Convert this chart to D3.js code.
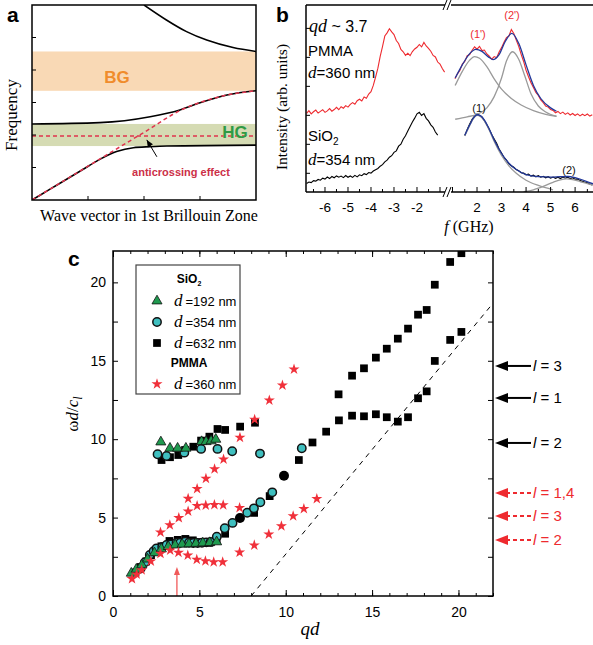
<!DOCTYPE html>
<html><head><meta charset="utf-8">
<script src="https://cdn.jsdelivr.net/npm/d3@7"></script>
<style>body{margin:0;background:#fff}svg{display:block}</style>
</head><body>
<svg id="c" width="593" height="645"></svg>
<script>
// ================= DATA =================
// Panel a (schematic dispersion, arbitrary units)
const bandBG = [3.36, 4.57];
const bandHG = [1.66, 2.34];
const hybridFreq = 1.97;
const branchUpper = [[2.0,6.0],[2.4,5.54],[2.76,5.18],[3.12,4.92],[3.59,4.69],[4.0,4.57]];
const branchMiddle = [[0,2.34],[1.21,2.38],[2.11,2.56],[2.64,2.77],[3.0,2.99],[3.48,3.23],[4.0,3.36]];
const branchLower = [[0,0],[0.3,0.31],[0.9,0.93],[1.21,1.25],[1.51,1.49],[1.81,1.61],[2.11,1.64],[2.41,1.66],[4.0,1.69]];
const uncoupled = [[0,0],[1,1.04],[2,2.08],[2.7,2.8],[3.0,3.0],[3.48,3.23],[4.0,3.36]];
const anticrossArrow = [[2.23,1.33],[2.05,1.85]];

// Panel b spectra: [f (GHz), intensity (arb.)]
const pmmaLeft = [[-6.8,42.0],[-6.7,43.5],[-6.6,41.8],[-6.5,42.9],[-6.4,43.8],[-6.3,42.2],[-6.2,43.1],[-6.1,44.0],[-6.0,42.6],[-5.9,43.4],[-5.8,44.6],[-5.7,43.2],[-5.6,44.1],[-5.5,45.3],[-5.4,44.0],[-5.3,45.6],[-5.2,44.8],[-5.1,46.2],[-5.0,45.4],[-4.9,46.9],[-4.8,47.8],[-4.7,46.9],[-4.6,48.8],[-4.5,49.6],[-4.4,48.7],[-4.3,50.8],[-4.2,50.1],[-4.1,52.4],[-4.0,53.6],[-3.9,57.0],[-3.8,61.5],[-3.7,66.2],[-3.6,72.5],[-3.5,77.8],[-3.4,83.4],[-3.3,85.1],[-3.2,87.3],[-3.1,85.6],[-3.0,84.2],[-2.9,81.0],[-2.8,79.4],[-2.7,76.2],[-2.6,75.0],[-2.5,73.1],[-2.4,74.2],[-2.3,72.9],[-2.2,75.1],[-2.1,76.5],[-2.0,77.4],[-1.9,78.9],[-1.8,77.6],[-1.7,80.0],[-1.6,78.1],[-1.5,76.8],[-1.4,75.3],[-1.3,73.0],[-1.2,72.2],[-1.1,69.5],[-1.0,68.4],[-0.9,66.0],[-0.8,64.1]];
const pmmaRight = [[1.1,60.5],[1.2,63.2],[1.3,65.0],[1.4,68.4],[1.5,69.8],[1.6,72.9],[1.7,73.5],[1.8,75.8],[1.9,77.6],[2.0,76.4],[2.1,77.9],[2.2,75.6],[2.3,75.9],[2.4,73.8],[2.5,72.6],[2.6,71.0],[2.7,72.4],[2.8,71.8],[2.9,74.9],[3.0,77.2],[3.1,80.1],[3.2,82.6],[3.3,83.4],[3.4,86.9],[3.5,84.8],[3.6,81.2],[3.7,77.9],[3.8,73.6],[3.9,69.8],[4.0,65.1],[4.1,61.6],[4.2,58.4],[4.3,55.9],[4.4,53.2],[4.5,51.6],[4.6,49.3],[4.7,47.8],[4.8,46.0],[4.9,45.4],[5.0,44.1],[5.1,43.6],[5.2,42.4],[5.3,43.1],[5.4,41.9],[5.5,42.7],[5.6,41.5],[5.7,42.3],[5.8,41.2],[5.9,42.0],[6.0,40.9],[6.1,41.8],[6.2,40.7],[6.3,41.6],[6.4,40.8],[6.5,41.7],[6.6,40.6],[6.7,41.3]];
const sio2Left = [[-6.8,4.6],[-6.7,5.3],[-6.6,5.0],[-6.5,6.1],[-6.4,5.8],[-6.3,6.7],[-6.2,6.3],[-6.1,7.4],[-6.0,6.9],[-5.9,8.0],[-5.8,7.2],[-5.7,8.3],[-5.6,7.6],[-5.5,8.6],[-5.4,7.9],[-5.3,8.5],[-5.2,7.7],[-5.1,8.8],[-5.0,7.9],[-4.9,8.6],[-4.8,7.8],[-4.7,8.9],[-4.6,8.1],[-4.5,9.2],[-4.4,8.7],[-4.3,9.8],[-4.2,9.3],[-4.1,10.4],[-4.0,10.1],[-3.9,11.2],[-3.8,11.9],[-3.7,12.6],[-3.6,13.8],[-3.5,14.6],[-3.4,16.1],[-3.3,17.0],[-3.2,18.6],[-3.1,19.4],[-3.0,21.2],[-2.9,22.0],[-2.8,24.5],[-2.7,25.6],[-2.6,28.2],[-2.5,30.1],[-2.4,32.6],[-2.3,35.0],[-2.2,37.4],[-2.1,39.5],[-2.0,41.8],[-1.9,42.6],[-1.8,40.9],[-1.7,41.9],[-1.6,39.4],[-1.5,38.0],[-1.4,35.9],[-1.3,34.6],[-1.2,32.1],[-1.1,30.4]];
const sio2Right = [[1.5,30.2],[1.6,33.5],[1.7,36.4],[1.8,38.9],[1.9,40.6],[2.0,41.8],[2.1,40.9],[2.2,40.1],[2.3,38.2],[2.4,35.9],[2.5,33.6],[2.6,30.8],[2.7,28.4],[2.8,26.1],[2.9,23.0],[3.0,20.9],[3.1,18.5],[3.2,17.0],[3.3,15.1],[3.4,14.0],[3.5,13.2],[3.6,12.0],[3.7,11.4],[3.8,10.3],[3.9,10.1],[4.0,9.2],[4.1,9.6],[4.2,8.5],[4.3,9.0],[4.4,8.1],[4.5,8.7],[4.6,7.9],[4.7,8.4],[4.8,7.6],[4.9,8.2],[5.0,7.4],[5.1,8.0],[5.2,7.3],[5.3,7.9],[5.4,7.2],[5.5,8.0],[5.6,7.4],[5.7,7.9],[5.8,7.1],[5.9,7.6],[6.0,6.8],[6.1,7.0],[6.2,6.1],[6.3,5.7],[6.4,5.2],[6.5,4.9],[6.6,4.2],[6.7,3.8]];
const fitPmma1 = [[1.11,57],[1.4,64.5],[1.7,70.5],[1.9,72.4],[2.1,71.5],[2.4,67],[2.7,60.5],[3.0,55],[3.4,50],[3.8,46.5],[4.3,43.5],[4.8,41.5],[5.24,40.5]];
const fitPmma2 = [[1.11,38.9],[1.6,40.2],[2.0,41.5],[2.4,45],[2.7,51],[3.0,61],[3.2,70],[3.45,75],[3.7,71],[3.95,62],[4.2,52.5],[4.5,46],[4.8,42.8],[5.24,40.5]];
const fitPmmaSum = [[1.11,61],[1.4,68],[1.7,74],[1.95,76.3],[2.2,75.2],[2.45,72.4],[2.65,70.8],[2.9,73.5],[3.15,80.5],[3.42,84.8],[3.7,79.5],[4.0,68],[4.3,57],[4.6,50],[5.0,45],[5.24,43.2]];
const fitSio1 = [[1.5,30],[1.7,35.5],[1.85,39.2],[2.0,41],[2.15,40.3],[2.3,38],[2.5,33],[2.7,27],[3.0,19.5],[3.3,14],[3.6,10],[4.0,6.3],[4.5,3.5],[5.1,1.2]];
const fitSio2 = [[3.9,0.2],[4.3,1.2],[4.7,3.0],[5.1,5.2],[5.4,6.5],[5.65,7.0],[5.9,6.6],[6.2,5.6],[6.5,4.5],[6.73,3.7]];
const fitSioSum = [[1.5,30.3],[1.7,35.8],[1.85,39.5],[2.0,41.3],[2.15,40.7],[2.3,38.5],[2.5,33.6],[2.7,27.8],[3.0,20.6],[3.3,15.4],[3.6,12.0],[4.0,9.3],[4.5,8.2],[5.0,8.0],[5.4,8.2],[5.7,8.3],[6.0,7.7],[6.4,6.0],[6.73,4.4]];
const bTicksLeft = [-6,-5,-4,-3,-2];
const bTicksRight = [2,3,4,5,6];
const bTicksIntensity = [10,25.5,41,56.5,72,87.5];

// Panel c: [qd, omega d / c_l]
const sio2_192 = [[1.06,1.45],[1.35,1.7],[1.67,1.98],[2.0,2.35],[2.4,2.75],[2.8,3.0],[3.2,3.15],[3.6,3.25],[4.0,3.3],[4.4,3.32],[4.8,3.35],[5.2,3.38],[5.6,3.4],[6.0,3.45],
  [2.77,9.82],[3.30,9.42],[3.74,9.42],[4.22,9.42],[5.13,9.84],[5.39,9.84],[5.68,9.89],[5.95,9.99]];
const sio2_354 = [[1.6,1.75],[1.85,2.15],[2.13,2.61],[2.35,2.85],[2.52,3.04],[2.85,3.12],[3.10,3.25],[3.35,3.28],[3.68,3.40],[3.9,3.40],[4.17,3.46],[4.4,3.40],[4.65,3.38],[4.9,3.38],[5.15,3.40],[5.4,3.42],[5.65,3.45],[6.01,3.78],
  [6.47,4.32],[6.92,4.66],[7.77,5.31],[8.16,5.59],[8.53,5.98],[9.22,6.61],
  [2.58,9.04],[3.10,8.93],[4.13,9.14],[5.10,9.38],[6.05,9.38],[6.90,9.23],[8.51,9.08],[10.93,9.42]];
const sio2_354_dark = [[7.35,4.97],[9.90,7.67]];
const sio2_632 = [[1.3,1.5],[1.6,1.85],[1.92,2.2],[2.2,2.6],[2.5,2.85],[2.8,3.17],[3.27,3.51],[3.75,3.58],[4.19,3.64],[4.62,3.55],[5.1,3.42],[5.58,3.40],[6.0,3.55],[6.49,3.97],[8.17,5.30],[9.07,6.37],
  [10.76,8.67],[11.55,9.79],[12.34,10.48],[13.08,11.20],[13.84,11.50],[14.53,11.46],[15.22,11.59],[15.85,11.40],[16.49,11.12],[17.08,11.40],[17.66,12.61],[18.16,13.05],[18.63,14.99],[19.52,16.33],[20.17,16.84],
  [2.81,8.67],[3.30,8.85],[3.78,8.99],[4.17,9.31],[4.65,9.52],[5.10,9.91],[5.58,10.16],[6.05,10.65],[6.49,10.59],[7.36,10.80],[8.22,11.05],
  [13.06,12.86],[13.84,14.05],[14.53,14.52],[15.22,15.20],[15.85,15.77],[16.49,16.41],[17.08,17.05],[17.66,17.94],[18.16,18.24],[18.63,19.85],[19.52,21.30],[20.17,21.86]];
const pmma_360 = [[1.10,1.09],[1.37,1.38],[1.66,1.65],[2.19,2.22],[2.75,2.70],[3.31,2.91],[3.79,2.77],[4.33,2.60],[4.85,2.32],[5.35,2.23],[5.83,2.17],[6.35,2.17],[7.33,2.78],[8.18,3.24],[9.02,3.94],[9.75,4.46],[10.43,5.10],[11.05,5.56],[11.8,6.2],
  [2.75,4.06],[3.29,4.53],[3.81,4.98],[4.35,5.40],[4.87,5.75],[5.37,5.78],[5.87,5.81],[6.38,5.80],[7.33,5.62],
  [4.35,6.22],[4.87,6.84],[5.38,7.49],[5.88,8.09],[6.40,8.72],[7.35,10.11],[8.20,11.25],[9.05,12.48],[9.81,13.44],[10.48,14.46]];
const soundLine = [[8.0,0],[22,18.67]];
const markerQd = 3.7;
const modesSio2 = [{l:"3", w:14.67},{l:"1", w:12.63},{l:"2", w:9.76}];
const modesPmma = [{l:"1,4", w:6.57},{l:"3", w:5.10},{l:"2", w:3.57}];
const cTicks = [0,5,10,15,20];

// ================= DRAW =================
const SANS = "'Liberation Sans', Arial, Helvetica, sans-serif";
const SERIF = "'Liberation Serif', 'Times New Roman', serif";
const RED = "#ee2a2f";
const svg = d3.select("#c");

// ---------- Panel a ----------
const xa = d3.scaleLinear().domain([0,4]).range([32,256]);
const ya = d3.scaleLinear().domain([0,6]).range([200,5]);
const ga = svg.append("g");
ga.append("defs").append("clipPath").attr("id","clipA").append("rect")
  .attr("x",xa(0)).attr("y",ya(6)).attr("width",xa(4)-xa(0)).attr("height",ya(0)-ya(6));
ga.append("rect").attr("x",xa(0)).attr("width",xa(4)-xa(0)).attr("y",ya(bandBG[1])).attr("height",ya(bandBG[0])-ya(bandBG[1])).attr("fill","#f9d9b5");
ga.append("rect").attr("x",xa(0)).attr("width",xa(4)-xa(0)).attr("y",ya(bandHG[1])).attr("height",ya(bandHG[0])-ya(bandHG[1])).attr("fill","#d5dbb3");
const la = d3.line().x(d=>xa(d[0])).y(d=>ya(d[1])).curve(d3.curveMonotoneX);
const gac = ga.append("g").attr("clip-path","url(#clipA)");
[branchUpper,branchMiddle,branchLower].forEach(b=>gac.append("path").attr("d",la(b)).attr("fill","none").attr("stroke","#000").attr("stroke-width",1.6));
gac.append("path").attr("d",la(uncoupled)).attr("fill","none").attr("stroke","#e0344e").attr("stroke-width",1.5).attr("stroke-dasharray","4,3");
gac.append("line").attr("x1",xa(0)).attr("x2",xa(4)).attr("y1",ya(hybridFreq)).attr("y2",ya(hybridFreq)).attr("stroke","#e0344e").attr("stroke-width",1.5).attr("stroke-dasharray","4,3");
ga.append("text").attr("x",117).attr("y",83).attr("text-anchor","middle").attr("font-family",SANS).attr("font-weight","bold").attr("font-size",17).attr("fill","#f08c2c").text("BG");
ga.append("text").attr("x",235).attr("y",137.5).attr("text-anchor","middle").attr("font-family",SANS).attr("font-weight","bold").attr("font-size",17).attr("fill","#2f9a45").text("HG");
ga.append("text").attr("x",181).attr("y",176).attr("text-anchor","middle").attr("font-family",SANS).attr("font-weight","bold").attr("font-size",11).attr("fill","#cc3048").text("anticrossing effect");
{
  const [p0,p1] = anticrossArrow.map(d=>[xa(d[0]),ya(d[1])]);
  ga.append("line").attr("x1",p0[0]).attr("y1",p0[1]).attr("x2",p1[0]).attr("y2",p1[1]).attr("stroke","#000").attr("stroke-width",1);
  const ang = Math.atan2(p1[1]-p0[1],p1[0]-p0[0]);
  const L=7,W=3;
  const bx=p1[0]-L*Math.cos(ang), by=p1[1]-L*Math.sin(ang);
  ga.append("path").attr("d",`M${p1[0]},${p1[1]}L${bx+W*Math.sin(ang)},${by-W*Math.cos(ang)}L${bx-W*Math.sin(ang)},${by+W*Math.cos(ang)}Z`).attr("fill","#000");
}
ga.append("rect").attr("x",xa(0)).attr("y",ya(6)).attr("width",xa(4)-xa(0)).attr("height",ya(0)-ya(6)).attr("fill","none").attr("stroke","#000").attr("stroke-width",1.5);
[1,2,3,4,5].forEach(v=>ga.append("line").attr("x1",xa(0)).attr("x2",xa(0)+4).attr("y1",ya(v)).attr("y2",ya(v)).attr("stroke","#000"));
[1,2,3].forEach(v=>ga.append("line").attr("x1",xa(v)).attr("x2",xa(v)).attr("y1",ya(0)).attr("y2",ya(0)-4).attr("stroke","#000"));
ga.append("text").attr("x",17).attr("y",115).attr("transform","rotate(-90,17,115)").attr("text-anchor","middle").attr("font-family",SERIF).attr("font-size",17).text("Frequency");
ga.append("text").attr("x",149).attr("y",221).attr("text-anchor","middle").attr("font-family",SERIF).attr("font-size",16).text("Wave vector in 1st Brillouin Zone");
svg.append("text").attr("x",7).attr("y",22).attr("font-family",SANS).attr("font-weight","bold").attr("font-size",21).text("a");

// ---------- Panel b ----------
const xbL = d3.scaleLinear().domain([-6.826,-0.652]).range([306,448]);
const xbR = d3.scaleLinear().domain([0.816,6.73]).range([448,593]);
const yb = d3.scaleLinear().domain([0,100]).range([192,5]);
const gb = svg.append("g");
const lL = d3.line().x(d=>xbL(d[0])).y(d=>yb(d[1]));
const lR = d3.line().x(d=>xbR(d[0])).y(d=>yb(d[1]));
const lRs = d3.line().x(d=>xbR(d[0])).y(d=>yb(d[1])).curve(d3.curveMonotoneX);
gb.append("defs").append("clipPath").attr("id","clipB").append("rect").attr("x",306).attr("y",5).attr("width",287).attr("height",187);
const gbc = gb.append("g").attr("clip-path","url(#clipB)");
gbc.append("path").attr("d",lL(pmmaLeft)).attr("fill","none").attr("stroke",RED).attr("stroke-width",1.1);
gbc.append("path").attr("d",lR(pmmaRight)).attr("fill","none").attr("stroke",RED).attr("stroke-width",1.1);
gbc.append("path").attr("d",lL(sio2Left)).attr("fill","none").attr("stroke","#000").attr("stroke-width",1.1);
gbc.append("path").attr("d",lR(sio2Right)).attr("fill","none").attr("stroke","#000").attr("stroke-width",1.1);
[fitPmma1,fitPmma2,fitSio1,fitSio2].forEach(f=>gbc.append("path").attr("d",lRs(f)).attr("fill","none").attr("stroke","#9a9a9a").attr("stroke-width",1.3));
[fitPmmaSum,fitSioSum].forEach(f=>gbc.append("path").attr("d",lRs(f)).attr("fill","none").attr("stroke","#22389a").attr("stroke-width",1.3));
const brk = 448;
gb.append("line").attr("x1",306).attr("x2",306).attr("y1",5).attr("y2",192).attr("stroke","#000").attr("stroke-width",1.5);
[5,192].forEach(y=>{
  gb.append("line").attr("x1",306).attr("x2",brk-3).attr("y1",y).attr("y2",y).attr("stroke","#000").attr("stroke-width",1.5);
  gb.append("line").attr("x1",brk+3).attr("x2",593).attr("y1",y).attr("y2",y).attr("stroke","#000").attr("stroke-width",1.5);
  [-3,1].forEach(o=>gb.append("line").attr("x1",brk+o-2).attr("x2",brk+o+2).attr("y1",y+5).attr("y2",y-5).attr("stroke","#000").attr("stroke-width",1));
});
const halfL = d3.range(-6.5,-0.9,0.5), halfR = d3.range(1,6.9,0.5);
halfL.forEach(v=>{const isM=Number.isInteger(v);gb.append("line").attr("x1",xbL(v)).attr("x2",xbL(v)).attr("y1",192).attr("y2",192-(isM?5:3)).attr("stroke","#000");});
halfR.forEach(v=>{const isM=Number.isInteger(v);gb.append("line").attr("x1",xbR(v)).attr("x2",xbR(v)).attr("y1",192).attr("y2",192-(isM?5:3)).attr("stroke","#000");});
bTicksIntensity.forEach(v=>gb.append("line").attr("x1",306).attr("x2",310).attr("y1",yb(v)).attr("y2",yb(v)).attr("stroke","#000"));
bTicksLeft.forEach(v=>gb.append("text").attr("x",xbL(v)).attr("y",212).attr("text-anchor","middle").attr("font-family",SANS).attr("font-size",13.5).text(v));
bTicksRight.forEach(v=>gb.append("text").attr("x",xbR(v)).attr("y",212).attr("text-anchor","middle").attr("font-family",SANS).attr("font-size",13.5).text(v));
{
  const t = gb.append("text").attr("x",469).attr("y",232).attr("text-anchor","middle").attr("font-size",16);
  t.append("tspan").attr("font-family",SERIF).attr("font-style","italic").text("f");
  t.append("tspan").attr("font-family",SERIF).text(" (GHz)");
}
gb.append("text").attr("x",287).attr("y",107).attr("transform","rotate(-90,287,107)").attr("text-anchor","middle").attr("font-family",SERIF).attr("font-size",15.5).text("Intensity (arb. units)");
{
  const t = gb.append("text").attr("x",309).attr("y",32);
  t.append("tspan").attr("font-family",SERIF).attr("font-style","italic").attr("font-size",18).text("qd");
  t.append("tspan").attr("font-family",SANS).attr("font-size",16).text(" ~ 3.7");
  gb.append("text").attr("x",308).attr("y",56).attr("font-family",SANS).attr("font-size",15).text("PMMA");
  const t2 = gb.append("text").attr("x",308).attr("y",78);
  t2.append("tspan").attr("font-family",SERIF).attr("font-style","italic").attr("font-size",17).text("d");
  t2.append("tspan").attr("font-family",SANS).attr("font-size",15).text("=360 nm");
  const t3 = gb.append("text").attr("x",308).attr("y",141).attr("font-family",SANS).attr("font-size",15);
  t3.append("tspan").text("SiO");
  t3.append("tspan").attr("font-size",10).attr("dy",4).text("2");
  const t4 = gb.append("text").attr("x",308).attr("y",165);
  t4.append("tspan").attr("font-family",SERIF).attr("font-style","italic").attr("font-size",17).text("d");
  t4.append("tspan").attr("font-family",SANS).attr("font-size",15).text("=354 nm");
}
gb.append("text").attr("x",478).attr("y",38).attr("text-anchor","middle").attr("font-family",SANS).attr("font-size",11).attr("fill",RED).text("(1')");
gb.append("text").attr("x",512).attr("y",19).attr("text-anchor","middle").attr("font-family",SANS).attr("font-size",11).attr("fill",RED).text("(2')");
gb.append("text").attr("x",479).attr("y",112).attr("text-anchor","middle").attr("font-family",SANS).attr("font-size",11).attr("fill","#111").text("(1)");
gb.append("text").attr("x",569).attr("y",174).attr("text-anchor","middle").attr("font-family",SANS).attr("font-size",11).attr("fill","#111").text("(2)");
svg.append("text").attr("x",276).attr("y",22).attr("font-family",SANS).attr("font-weight","bold").attr("font-size",21).text("b");

// ---------- Panel c ----------
const xc = d3.scaleLinear().domain([0,22]).range([113,493]);
const yc = d3.scaleLinear().domain([0,22]).range([596,251]);
const gc = svg.append("g");
gc.append("defs").append("clipPath").attr("id","clipC").append("rect").attr("x",113).attr("y",251).attr("width",380).attr("height",345);
const gcc = gc.append("g").attr("clip-path","url(#clipC)");
gcc.append("line").attr("x1",xc(soundLine[0][0])).attr("y1",yc(soundLine[0][1])).attr("x2",xc(soundLine[1][0])).attr("y2",yc(soundLine[1][1]))
  .attr("stroke","#000").attr("stroke-width",1).attr("stroke-dasharray","5,5");
{
  const x = xc(markerQd);
  gc.append("line").attr("x1",x).attr("x2",x).attr("y1",yc(0)).attr("y2",yc(1.5)).attr("stroke","#f05a5a").attr("stroke-width",1.3);
  gc.append("path").attr("d",`M${x},${yc(1.85)}L${x-3},${yc(1.85)+8}L${x+3},${yc(1.85)+8}Z`).attr("fill","#f05a5a");
}
const sq = d3.symbol().type(d3.symbolSquare).size(60);
const tri = d3.symbol().type(d3.symbolTriangle).size(44);
const star = d3.symbol().type(d3.symbolStar).size(38);
gcc.selectAll(".sq").data(sio2_632).join("path").attr("d",sq).attr("transform",d=>`translate(${xc(d[0])},${yc(d[1])})`).attr("fill","#000");
gcc.selectAll(".cd").data(sio2_354_dark).join("circle").attr("cx",d=>xc(d[0])).attr("cy",d=>yc(d[1])).attr("r",5).attr("fill","#000");
gcc.selectAll(".ci").data(sio2_354).join("circle").attr("cx",d=>xc(d[0])).attr("cy",d=>yc(d[1])).attr("r",4.2).attr("fill","#3fbfbf").attr("stroke","#111").attr("stroke-width",1.5);
gcc.selectAll(".tr").data(sio2_192).join("path").attr("d",tri).attr("transform",d=>`translate(${xc(d[0])},${yc(d[1])})`).attr("fill","#1f9a4f").attr("stroke","#111").attr("stroke-width",0.8);
gcc.selectAll(".st").data(pmma_360).join("path").attr("d",star).attr("transform",d=>`translate(${xc(d[0])},${yc(d[1])})`).attr("fill","#f0303a");
gc.append("rect").attr("x",113).attr("y",251).attr("width",380).attr("height",345).attr("fill","none").attr("stroke","#000").attr("stroke-width",1.5);
const minorX = d3.range(0,23), minorY = d3.range(0,22.1,2.5);
function ax(gen, tr){ const g=gc.append("g").attr("transform",tr).call(gen); g.select(".domain").remove(); g.selectAll("line").attr("stroke","#000"); return g;}
ax(d3.axisBottom(xc).tickValues(minorX).tickSize(-3).tickFormat(""),`translate(0,596)`);
ax(d3.axisTop(xc).tickValues(minorX).tickSize(-3).tickFormat(""),`translate(0,251)`);
ax(d3.axisBottom(xc).tickValues(cTicks).tickSize(-6).tickPadding(11),`translate(0,596)`);
ax(d3.axisTop(xc).tickValues(cTicks).tickSize(-6).tickFormat(""),`translate(0,251)`);
ax(d3.axisLeft(yc).tickValues(minorY).tickSize(-5).tickPadding(7).tickFormat(d=>cTicks.includes(d)?d:""),`translate(113,0)`);
ax(d3.axisRight(yc).tickValues(minorY).tickSize(-5).tickFormat(""),`translate(493,0)`);
gc.selectAll("text").attr("font-family",SANS).attr("font-size",14).attr("fill","#000");
{
  gc.append("text").attr("x",310).attr("y",635).attr("text-anchor","middle").attr("font-family",SERIF).attr("font-style","italic").attr("font-size",19).text("qd");
  const t2 = gc.append("text").attr("transform","translate(78,414) rotate(-90)").attr("text-anchor","middle").attr("font-family",SERIF).attr("font-size",17);
  t2.append("tspan").text("ω");
  t2.append("tspan").attr("font-style","italic").text("d");
  t2.append("tspan").text("/");
  t2.append("tspan").attr("font-style","italic").text("c");
  t2.append("tspan").attr("font-style","italic").attr("font-size",12).attr("dy",4).text("l");
}
{
  const g = gc.append("g");
  g.append("rect").attr("x",136).attr("y",265).attr("width",104).attr("height",129).attr("fill","#fff").attr("stroke","#444").attr("stroke-width",1.2);
  const hd = (txt,y,sub)=>{const t=g.append("text").attr("x",189).attr("y",y).attr("text-anchor","middle").attr("font-family",SANS).attr("font-weight","bold").attr("font-size",12).text(txt); if(sub) t.append("tspan").attr("font-size",7).attr("dy",3).text(sub);};
  hd("SiO",283,"2"); hd("PMMA",367);
  const entry=(y,label,draw)=>{draw(157,y); const t=g.append("text").attr("x",174).attr("y",y+5);
    t.append("tspan").attr("font-family",SERIF).attr("font-style","italic").attr("font-size",17).text("d");
    t.append("tspan").attr("font-family",SANS).attr("font-size",13).attr("dx",3).text(label);};
  entry(301,"=192 nm",(x,y)=>g.append("path").attr("d",tri).attr("transform",`translate(${x},${y})`).attr("fill","#1f9a4f").attr("stroke","#111").attr("stroke-width",0.8));
  entry(322,"=354 nm",(x,y)=>g.append("circle").attr("cx",x).attr("cy",y).attr("r",4.2).attr("fill","#3fbfbf").attr("stroke","#111").attr("stroke-width",1.5));
  entry(343,"=632 nm",(x,y)=>g.append("path").attr("d",sq).attr("transform",`translate(${x},${y})`).attr("fill","#000"));
  entry(384,"=360 nm",(x,y)=>g.append("path").attr("d",star).attr("transform",`translate(${x},${y})`).attr("fill","#f0303a"));
}
function modeArrow(m, color, dashed){
  const y = yc(m.w);
  gc.append("path").attr("d",`M495,${y}L508,${y-5}L508,${y+5}Z`).attr("fill",color);
  gc.append("line").attr("x1",506).attr("x2",531).attr("y1",y).attr("y2",y).attr("stroke",color).attr("stroke-width",2).attr("stroke-dasharray",dashed?"4,3":null);
  const t = gc.append("text").attr("x",533).attr("y",y+5).attr("font-family",SANS).attr("font-size",15).attr("fill",color);
  t.append("tspan").attr("font-style","italic").text("l");
  t.append("tspan").text(" = "+m.l);
}
modesSio2.forEach(m=>modeArrow(m,"#000",false));
modesPmma.forEach(m=>modeArrow(m,"#ee2a2f",true));
svg.append("text").attr("x",68).attr("y",266).attr("font-family",SANS).attr("font-weight","bold").attr("font-size",21).text("c");
</script>
</body></html>
